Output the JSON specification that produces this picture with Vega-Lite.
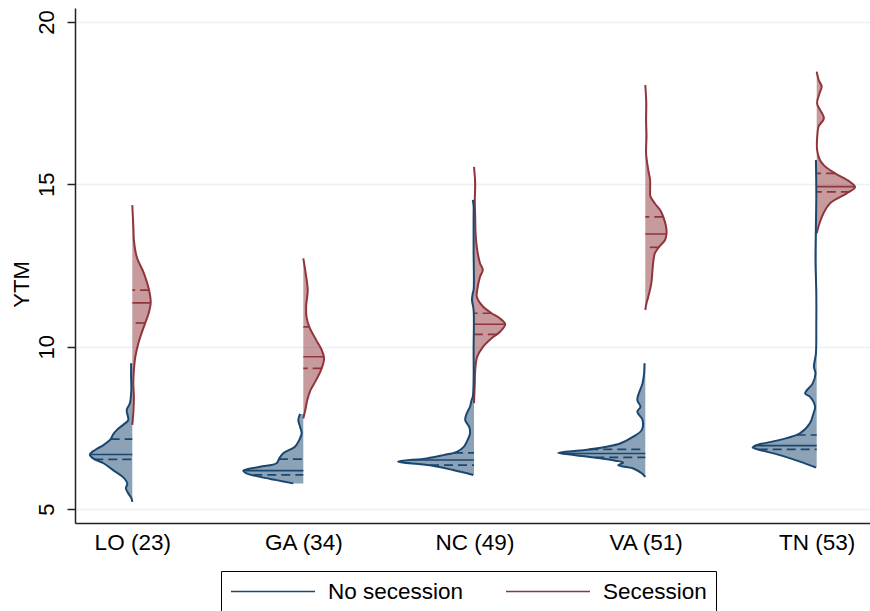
{
"$schema":"https://vega.github.io/schema/vega-lite/v6.json",
"width":795,"height":515,
"autosize":{"type":"none"},
"padding":{"left":75,"top":8,"right":0,"bottom":88},
"background":"white",
"config":{"view":{"stroke":null},"font":"Liberation Sans","axis":{"labelColor":"black","titleColor":"black","labelFont":"Liberation Sans","titleFont":"Liberation Sans"},"legend":{"labelFont":"Liberation Sans"}},
"data":{"values":[
{"state":"LO (23)","group":"Secession","stat":"curve","ytm":14.36,"density":0},
{"state":"LO (23)","group":"Secession","stat":"curve","ytm":13.59,"density":0.03},
{"state":"LO (23)","group":"Secession","stat":"curve","ytm":13.28,"density":0.04},
{"state":"LO (23)","group":"Secession","stat":"curve","ytm":12.77,"density":0.11},
{"state":"LO (23)","group":"Secession","stat":"curve","ytm":12.26,"density":0.29},
{"state":"LO (23)","group":"Secession","stat":"curve","ytm":11.74,"density":0.42},
{"state":"LO (23)","group":"Secession","stat":"curve","ytm":11.35,"density":0.46},
{"state":"LO (23)","group":"Secession","stat":"curve","ytm":11.03,"density":0.41},
{"state":"LO (23)","group":"Secession","stat":"curve","ytm":10.72,"density":0.32},
{"state":"LO (23)","group":"Secession","stat":"curve","ytm":10.41,"density":0.23},
{"state":"LO (23)","group":"Secession","stat":"curve","ytm":10.10,"density":0.15},
{"state":"LO (23)","group":"Secession","stat":"curve","ytm":9.69,"density":0.075},
{"state":"LO (23)","group":"Secession","stat":"curve","ytm":9.28,"density":0.04},
{"state":"LO (23)","group":"Secession","stat":"curve","ytm":8.88,"density":0.025},
{"state":"LO (23)","group":"Secession","stat":"curve","ytm":8.46,"density":0.04},
{"state":"LO (23)","group":"Secession","stat":"curve","ytm":8.05,"density":0.03},
{"state":"LO (23)","group":"Secession","stat":"curve","ytm":7.59,"density":0},
{"state":"LO (23)","group":"Secession","stat":"q3","ytm":11.74,"density":0.42},
{"state":"LO (23)","group":"Secession","stat":"median","ytm":11.35,"density":0.46},
{"state":"LO (23)","group":"Secession","stat":"q1","ytm":10.73,"density":0.31},
{"state":"LO (23)","group":"No secession","stat":"curve","ytm":9.49,"density":0.03},
{"state":"LO (23)","group":"No secession","stat":"curve","ytm":9.07,"density":0.03},
{"state":"LO (23)","group":"No secession","stat":"curve","ytm":8.66,"density":0.025},
{"state":"LO (23)","group":"No secession","stat":"curve","ytm":8.26,"density":0.06},
{"state":"LO (23)","group":"No secession","stat":"curve","ytm":8.05,"density":0.14},
{"state":"LO (23)","group":"No secession","stat":"curve","ytm":7.74,"density":0.10},
{"state":"LO (23)","group":"No secession","stat":"curve","ytm":7.64,"density":0.18},
{"state":"LO (23)","group":"No secession","stat":"curve","ytm":7.43,"density":0.39},
{"state":"LO (23)","group":"No secession","stat":"curve","ytm":7.28,"density":0.49},
{"state":"LO (23)","group":"No secession","stat":"curve","ytm":7.15,"density":0.54},
{"state":"LO (23)","group":"No secession","stat":"curve","ytm":6.97,"density":0.72},
{"state":"LO (23)","group":"No secession","stat":"curve","ytm":6.82,"density":0.93},
{"state":"LO (23)","group":"No secession","stat":"curve","ytm":6.68,"density":1.06},
{"state":"LO (23)","group":"No secession","stat":"curve","ytm":6.56,"density":0.98},
{"state":"LO (23)","group":"No secession","stat":"curve","ytm":6.41,"density":0.72},
{"state":"LO (23)","group":"No secession","stat":"curve","ytm":6.20,"density":0.48},
{"state":"LO (23)","group":"No secession","stat":"curve","ytm":5.99,"density":0.24},
{"state":"LO (23)","group":"No secession","stat":"curve","ytm":5.79,"density":0.125},
{"state":"LO (23)","group":"No secession","stat":"curve","ytm":5.64,"density":0.16},
{"state":"LO (23)","group":"No secession","stat":"curve","ytm":5.48,"density":0.10},
{"state":"LO (23)","group":"No secession","stat":"curve","ytm":5.33,"density":0.02},
{"state":"LO (23)","group":"No secession","stat":"curve","ytm":5.22,"density":0},
{"state":"LO (23)","group":"No secession","stat":"q3","ytm":7.15,"density":0.54},
{"state":"LO (23)","group":"No secession","stat":"median","ytm":6.68,"density":1.06},
{"state":"LO (23)","group":"No secession","stat":"q1","ytm":6.53,"density":0.95},
{"state":"GA (34)","group":"Secession","stat":"curve","ytm":12.72,"density":0},
{"state":"GA (34)","group":"Secession","stat":"curve","ytm":12.26,"density":0.06},
{"state":"GA (34)","group":"Secession","stat":"curve","ytm":11.74,"density":0.11},
{"state":"GA (34)","group":"Secession","stat":"curve","ytm":11.23,"density":0.07},
{"state":"GA (34)","group":"Secession","stat":"curve","ytm":10.92,"density":0.08},
{"state":"GA (34)","group":"Secession","stat":"curve","ytm":10.61,"density":0.15},
{"state":"GA (34)","group":"Secession","stat":"curve","ytm":10.21,"density":0.32},
{"state":"GA (34)","group":"Secession","stat":"curve","ytm":9.90,"density":0.46},
{"state":"GA (34)","group":"Secession","stat":"curve","ytm":9.64,"density":0.52},
{"state":"GA (34)","group":"Secession","stat":"curve","ytm":9.33,"density":0.46},
{"state":"GA (34)","group":"Secession","stat":"curve","ytm":8.97,"density":0.32},
{"state":"GA (34)","group":"Secession","stat":"curve","ytm":8.66,"density":0.18},
{"state":"GA (34)","group":"Secession","stat":"curve","ytm":8.36,"density":0.10},
{"state":"GA (34)","group":"Secession","stat":"curve","ytm":8.05,"density":0.05},
{"state":"GA (34)","group":"Secession","stat":"curve","ytm":7.79,"density":0},
{"state":"GA (34)","group":"Secession","stat":"q3","ytm":10.61,"density":0.15},
{"state":"GA (34)","group":"Secession","stat":"median","ytm":9.69,"density":0.51},
{"state":"GA (34)","group":"Secession","stat":"q1","ytm":9.33,"density":0.46},
{"state":"GA (34)","group":"No secession","stat":"curve","ytm":7.93,"density":0.08},
{"state":"GA (34)","group":"No secession","stat":"curve","ytm":7.74,"density":0.125},
{"state":"GA (34)","group":"No secession","stat":"curve","ytm":7.53,"density":0.08},
{"state":"GA (34)","group":"No secession","stat":"curve","ytm":7.33,"density":0.04},
{"state":"GA (34)","group":"No secession","stat":"curve","ytm":7.13,"density":0.10},
{"state":"GA (34)","group":"No secession","stat":"curve","ytm":6.92,"density":0.21},
{"state":"GA (34)","group":"No secession","stat":"curve","ytm":6.72,"density":0.50},
{"state":"GA (34)","group":"No secession","stat":"curve","ytm":6.56,"density":0.60},
{"state":"GA (34)","group":"No secession","stat":"curve","ytm":6.41,"density":0.67},
{"state":"GA (34)","group":"No secession","stat":"curve","ytm":6.30,"density":1.08},
{"state":"GA (34)","group":"No secession","stat":"curve","ytm":6.18,"density":1.50},
{"state":"GA (34)","group":"No secession","stat":"curve","ytm":6.10,"density":1.42},
{"state":"GA (34)","group":"No secession","stat":"curve","ytm":5.99,"density":1.08},
{"state":"GA (34)","group":"No secession","stat":"curve","ytm":5.89,"density":0.67},
{"state":"GA (34)","group":"No secession","stat":"curve","ytm":5.79,"density":0.25},
{"state":"GA (34)","group":"No secession","stat":"q3","ytm":6.54,"density":0.61},
{"state":"GA (34)","group":"No secession","stat":"median","ytm":6.18,"density":1.50},
{"state":"GA (34)","group":"No secession","stat":"q1","ytm":6.05,"density":1.25},
{"state":"NC (49)","group":"Secession","stat":"curve","ytm":15.54,"density":0},
{"state":"NC (49)","group":"Secession","stat":"curve","ytm":15.03,"density":0.03},
{"state":"NC (49)","group":"Secession","stat":"curve","ytm":14.52,"density":0.02},
{"state":"NC (49)","group":"Secession","stat":"curve","ytm":14.0,"density":0.03},
{"state":"NC (49)","group":"Secession","stat":"curve","ytm":13.49,"density":0.04},
{"state":"NC (49)","group":"Secession","stat":"curve","ytm":12.98,"density":0.08},
{"state":"NC (49)","group":"Secession","stat":"curve","ytm":12.57,"density":0.15},
{"state":"NC (49)","group":"Secession","stat":"curve","ytm":12.36,"density":0.22},
{"state":"NC (49)","group":"Secession","stat":"curve","ytm":12.15,"density":0.15},
{"state":"NC (49)","group":"Secession","stat":"curve","ytm":11.74,"density":0.08},
{"state":"NC (49)","group":"Secession","stat":"curve","ytm":11.54,"density":0.07},
{"state":"NC (49)","group":"Secession","stat":"curve","ytm":11.23,"density":0.23},
{"state":"NC (49)","group":"Secession","stat":"curve","ytm":11.03,"density":0.44},
{"state":"NC (49)","group":"Secession","stat":"curve","ytm":10.87,"density":0.65},
{"state":"NC (49)","group":"Secession","stat":"curve","ytm":10.69,"density":0.78},
{"state":"NC (49)","group":"Secession","stat":"curve","ytm":10.46,"density":0.65},
{"state":"NC (49)","group":"Secession","stat":"curve","ytm":10.26,"density":0.44},
{"state":"NC (49)","group":"Secession","stat":"curve","ytm":10.0,"density":0.23},
{"state":"NC (49)","group":"Secession","stat":"curve","ytm":9.69,"density":0.08},
{"state":"NC (49)","group":"Secession","stat":"curve","ytm":9.28,"density":0.03},
{"state":"NC (49)","group":"Secession","stat":"curve","ytm":8.87,"density":0.02},
{"state":"NC (49)","group":"Secession","stat":"curve","ytm":8.26,"density":0},
{"state":"NC (49)","group":"Secession","stat":"q3","ytm":11.03,"density":0.44},
{"state":"NC (49)","group":"Secession","stat":"median","ytm":10.69,"density":0.78},
{"state":"NC (49)","group":"Secession","stat":"q1","ytm":10.38,"density":0.57},
{"state":"NC (49)","group":"No secession","stat":"curve","ytm":14.52,"density":0.03},
{"state":"NC (49)","group":"No secession","stat":"curve","ytm":14.33,"density":0.01},
{"state":"NC (49)","group":"No secession","stat":"curve","ytm":14.0,"density":0.01},
{"state":"NC (49)","group":"No secession","stat":"curve","ytm":12.98,"density":0.01},
{"state":"NC (49)","group":"No secession","stat":"curve","ytm":11.74,"density":0.01},
{"state":"NC (49)","group":"No secession","stat":"curve","ytm":11.65,"density":0.03},
{"state":"NC (49)","group":"No secession","stat":"curve","ytm":11.44,"density":0.05},
{"state":"NC (49)","group":"No secession","stat":"curve","ytm":11.13,"density":0.01},
{"state":"NC (49)","group":"No secession","stat":"curve","ytm":9.90,"density":0.01},
{"state":"NC (49)","group":"No secession","stat":"curve","ytm":8.97,"density":0.01},
{"state":"NC (49)","group":"No secession","stat":"curve","ytm":8.46,"density":0.03},
{"state":"NC (49)","group":"No secession","stat":"curve","ytm":8.36,"density":0.06},
{"state":"NC (49)","group":"No secession","stat":"curve","ytm":8.15,"density":0.10},
{"state":"NC (49)","group":"No secession","stat":"curve","ytm":7.95,"density":0.18},
{"state":"NC (49)","group":"No secession","stat":"curve","ytm":7.74,"density":0.22},
{"state":"NC (49)","group":"No secession","stat":"curve","ytm":7.53,"density":0.12},
{"state":"NC (49)","group":"No secession","stat":"curve","ytm":7.33,"density":0.10},
{"state":"NC (49)","group":"No secession","stat":"curve","ytm":7.18,"density":0.14},
{"state":"NC (49)","group":"No secession","stat":"curve","ytm":6.92,"density":0.25},
{"state":"NC (49)","group":"No secession","stat":"curve","ytm":6.76,"density":0.43},
{"state":"NC (49)","group":"No secession","stat":"curve","ytm":6.66,"density":0.77},
{"state":"NC (49)","group":"No secession","stat":"curve","ytm":6.56,"density":1.18},
{"state":"NC (49)","group":"No secession","stat":"curve","ytm":6.46,"density":1.9},
{"state":"NC (49)","group":"No secession","stat":"curve","ytm":6.35,"density":1.1},
{"state":"NC (49)","group":"No secession","stat":"curve","ytm":6.20,"density":0.52},
{"state":"NC (49)","group":"No secession","stat":"curve","ytm":6.05,"density":0.02},
{"state":"NC (49)","group":"No secession","stat":"q3","ytm":6.73,"density":0.5},
{"state":"NC (49)","group":"No secession","stat":"median","ytm":6.51,"density":1.55},
{"state":"NC (49)","group":"No secession","stat":"q1","ytm":6.35,"density":1.1},
{"state":"VA (51)","group":"Secession","stat":"curve","ytm":18.06,"density":0},
{"state":"VA (51)","group":"Secession","stat":"curve","ytm":17.49,"density":0.025},
{"state":"VA (51)","group":"Secession","stat":"curve","ytm":16.98,"density":0.02},
{"state":"VA (51)","group":"Secession","stat":"curve","ytm":16.47,"density":0.03},
{"state":"VA (51)","group":"Secession","stat":"curve","ytm":15.95,"density":0.02},
{"state":"VA (51)","group":"Secession","stat":"curve","ytm":15.44,"density":0.075},
{"state":"VA (51)","group":"Secession","stat":"curve","ytm":15.13,"density":0.12},
{"state":"VA (51)","group":"Secession","stat":"curve","ytm":14.82,"density":0.12},
{"state":"VA (51)","group":"Secession","stat":"curve","ytm":14.62,"density":0.13},
{"state":"VA (51)","group":"Secession","stat":"curve","ytm":14.41,"density":0.24},
{"state":"VA (51)","group":"Secession","stat":"curve","ytm":14.21,"density":0.37},
{"state":"VA (51)","group":"Secession","stat":"curve","ytm":14.0,"density":0.45},
{"state":"VA (51)","group":"Secession","stat":"curve","ytm":13.69,"density":0.52},
{"state":"VA (51)","group":"Secession","stat":"curve","ytm":13.47,"density":0.53},
{"state":"VA (51)","group":"Secession","stat":"curve","ytm":13.28,"density":0.49},
{"state":"VA (51)","group":"Secession","stat":"curve","ytm":13.08,"density":0.35},
{"state":"VA (51)","group":"Secession","stat":"curve","ytm":12.88,"density":0.24},
{"state":"VA (51)","group":"Secession","stat":"curve","ytm":12.62,"density":0.20},
{"state":"VA (51)","group":"Secession","stat":"curve","ytm":12.36,"density":0.18},
{"state":"VA (51)","group":"Secession","stat":"curve","ytm":11.95,"density":0.15},
{"state":"VA (51)","group":"Secession","stat":"curve","ytm":11.54,"density":0.075},
{"state":"VA (51)","group":"Secession","stat":"curve","ytm":11.34,"density":0.03},
{"state":"VA (51)","group":"Secession","stat":"curve","ytm":11.13,"density":0},
{"state":"VA (51)","group":"Secession","stat":"q3","ytm":14.0,"density":0.45},
{"state":"VA (51)","group":"Secession","stat":"median","ytm":13.47,"density":0.53},
{"state":"VA (51)","group":"Secession","stat":"q1","ytm":13.06,"density":0.34},
{"state":"VA (51)","group":"No secession","stat":"curve","ytm":9.49,"density":0.02},
{"state":"VA (51)","group":"No secession","stat":"curve","ytm":9.18,"density":0.03},
{"state":"VA (51)","group":"No secession","stat":"curve","ytm":8.87,"density":0.07},
{"state":"VA (51)","group":"No secession","stat":"curve","ytm":8.36,"density":0.20},
{"state":"VA (51)","group":"No secession","stat":"curve","ytm":8.15,"density":0.12},
{"state":"VA (51)","group":"No secession","stat":"curve","ytm":8.0,"density":0.20},
{"state":"VA (51)","group":"No secession","stat":"curve","ytm":7.74,"density":0.07},
{"state":"VA (51)","group":"No secession","stat":"curve","ytm":7.43,"density":0.09},
{"state":"VA (51)","group":"No secession","stat":"curve","ytm":7.23,"density":0.30},
{"state":"VA (51)","group":"No secession","stat":"curve","ytm":7.02,"density":0.63},
{"state":"VA (51)","group":"No secession","stat":"curve","ytm":6.92,"density":0.97},
{"state":"VA (51)","group":"No secession","stat":"curve","ytm":6.82,"density":1.5},
{"state":"VA (51)","group":"No secession","stat":"curve","ytm":6.73,"density":2.18},
{"state":"VA (51)","group":"No secession","stat":"curve","ytm":6.66,"density":1.75},
{"state":"VA (51)","group":"No secession","stat":"curve","ytm":6.56,"density":1.12},
{"state":"VA (51)","group":"No secession","stat":"curve","ytm":6.49,"density":0.75},
{"state":"VA (51)","group":"No secession","stat":"curve","ytm":6.43,"density":0.55},
{"state":"VA (51)","group":"No secession","stat":"curve","ytm":6.35,"density":0.68},
{"state":"VA (51)","group":"No secession","stat":"curve","ytm":6.25,"density":0.30},
{"state":"VA (51)","group":"No secession","stat":"curve","ytm":6.10,"density":0.09},
{"state":"VA (51)","group":"No secession","stat":"curve","ytm":5.99,"density":0},
{"state":"VA (51)","group":"No secession","stat":"q3","ytm":6.84,"density":1.4},
{"state":"VA (51)","group":"No secession","stat":"median","ytm":6.71,"density":2.1},
{"state":"VA (51)","group":"No secession","stat":"q1","ytm":6.59,"density":1.25},
{"state":"TN (53)","group":"Secession","stat":"curve","ytm":18.47,"density":0},
{"state":"TN (53)","group":"Secession","stat":"curve","ytm":18.21,"density":0.05},
{"state":"TN (53)","group":"Secession","stat":"curve","ytm":18.01,"density":0.125},
{"state":"TN (53)","group":"Secession","stat":"curve","ytm":17.80,"density":0.07},
{"state":"TN (53)","group":"Secession","stat":"curve","ytm":17.49,"density":0.01},
{"state":"TN (53)","group":"Secession","stat":"curve","ytm":17.03,"density":0.18},
{"state":"TN (53)","group":"Secession","stat":"curve","ytm":16.79,"density":0.05},
{"state":"TN (53)","group":"Secession","stat":"curve","ytm":16.57,"density":0.02},
{"state":"TN (53)","group":"Secession","stat":"curve","ytm":16.06,"density":0.01},
{"state":"TN (53)","group":"Secession","stat":"curve","ytm":15.75,"density":0.08},
{"state":"TN (53)","group":"Secession","stat":"curve","ytm":15.56,"density":0.2},
{"state":"TN (53)","group":"Secession","stat":"curve","ytm":15.34,"density":0.46},
{"state":"TN (53)","group":"Secession","stat":"curve","ytm":15.08,"density":0.83},
{"state":"TN (53)","group":"Secession","stat":"curve","ytm":14.91,"density":0.96},
{"state":"TN (53)","group":"Secession","stat":"curve","ytm":14.72,"density":0.75},
{"state":"TN (53)","group":"Secession","stat":"curve","ytm":14.41,"density":0.33},
{"state":"TN (53)","group":"Secession","stat":"curve","ytm":14.11,"density":0.17},
{"state":"TN (53)","group":"Secession","stat":"curve","ytm":13.80,"density":0.07},
{"state":"TN (53)","group":"Secession","stat":"curve","ytm":13.49,"density":0},
{"state":"TN (53)","group":"Secession","stat":"q3","ytm":15.34,"density":0.46},
{"state":"TN (53)","group":"Secession","stat":"median","ytm":14.93,"density":0.95},
{"state":"TN (53)","group":"Secession","stat":"q1","ytm":14.77,"density":0.83},
{"state":"TN (53)","group":"No secession","stat":"curve","ytm":15.75,"density":0.02},
{"state":"TN (53)","group":"No secession","stat":"curve","ytm":14.72,"density":0.01},
{"state":"TN (53)","group":"No secession","stat":"curve","ytm":13.69,"density":0.02},
{"state":"TN (53)","group":"No secession","stat":"curve","ytm":12.67,"density":0.03},
{"state":"TN (53)","group":"No secession","stat":"curve","ytm":11.64,"density":0.01},
{"state":"TN (53)","group":"No secession","stat":"curve","ytm":10.61,"density":0.01},
{"state":"TN (53)","group":"No secession","stat":"curve","ytm":9.79,"density":0.02},
{"state":"TN (53)","group":"No secession","stat":"curve","ytm":9.38,"density":0.07},
{"state":"TN (53)","group":"No secession","stat":"curve","ytm":9.18,"density":0.03},
{"state":"TN (53)","group":"No secession","stat":"curve","ytm":8.87,"density":0.1},
{"state":"TN (53)","group":"No secession","stat":"curve","ytm":8.56,"density":0.29},
{"state":"TN (53)","group":"No secession","stat":"curve","ytm":8.46,"density":0.17},
{"state":"TN (53)","group":"No secession","stat":"curve","ytm":8.15,"density":0.04},
{"state":"TN (53)","group":"No secession","stat":"curve","ytm":7.95,"density":0.08},
{"state":"TN (53)","group":"No secession","stat":"curve","ytm":7.64,"density":0.17},
{"state":"TN (53)","group":"No secession","stat":"curve","ytm":7.33,"density":0.42},
{"state":"TN (53)","group":"No secession","stat":"curve","ytm":7.13,"density":0.92},
{"state":"TN (53)","group":"No secession","stat":"curve","ytm":6.97,"density":1.5},
{"state":"TN (53)","group":"No secession","stat":"curve","ytm":6.90,"density":1.6},
{"state":"TN (53)","group":"No secession","stat":"curve","ytm":6.82,"density":1.42},
{"state":"TN (53)","group":"No secession","stat":"curve","ytm":6.66,"density":0.92},
{"state":"TN (53)","group":"No secession","stat":"curve","ytm":6.46,"density":0.42},
{"state":"TN (53)","group":"No secession","stat":"curve","ytm":6.28,"density":0.02},
{"state":"TN (53)","group":"No secession","stat":"q3","ytm":7.28,"density":0.5},
{"state":"TN (53)","group":"No secession","stat":"median","ytm":6.95,"density":1.55},
{"state":"TN (53)","group":"No secession","stat":"q1","ytm":6.84,"density":1.45}
]},
"encoding":{
 "y":{"field":"ytm","type":"quantitative","scale":{"domain":[4.57,20.43],"nice":false,"zero":false},
  "axis":{"title":"YTM","values":[5,10,15,20],"labelAngle":270,"labelAlign":"center","labelBaseline":"bottom","labelFontSize":22,"labelPadding":9,"tickSize":8,"tickColor":"#222","tickWidth":1.5,"domainColor":"#222","domainWidth":1.5,"grid":true,"gridColor":"#eaf0f3","gridWidth":1.5,"titleFontSize":22,"titleFontWeight":"normal","titleAngle":270,"titleBaseline":"bottom","titlePadding":2,"titleY":276}},
 "color":{"field":"group","type":"nominal","scale":{"domain":["No secession","Secession"],"range":["#1a476f","#90353b"]},
  "legend":{"title":null,"orient":"none","legendX":146,"legendY":563,"direction":"horizontal","symbolType":"M-1,0H7","symbolSize":441,"symbolStrokeWidth":1.5,"labelFontSize":22.5,"labelColor":"black","labelOffset":75,"columnPadding":38,"padding":9,"strokeColor":"black",
   "encode":{"symbols":{"update":{"stroke":{"scale":"color","field":"value"},"fill":{"value":"transparent"},"strokeWidth":{"value":1.6},"opacity":{"value":1},"fillOpacity":{"value":0}}}}}}
},
"layer":[
 {"transform":[{"filter":"false"}],"mark":{"type":"point"},
  "encoding":{"x":{"field":"state","type":"nominal","scale":{"type":"point","domain":["LO (23)","GA (34)","NC (49)","VA (51)","TN (53)"],"padding":0.323,"align":0.518},
   "axis":{"title":null,"labelAngle":0,"labelFontSize":22.5,"ticks":false,"labelPadding":8,"domainColor":"#222","domainWidth":1.5,"grid":false}}}},
 {"transform":[{"filter":"datum.state==='LO (23)' && datum.group==='Secession'"}],
  "encoding":{"x":{"field":"density","type":"quantitative","stack":null,"axis":null,"scale":{"domain":[-1.4325,18.4425],"nice":false,"zero":false}}},
  "layer":[
   {"transform":[{"filter":"datum.stat==='curve'"}],"mark":{"type":"area","orient":"horizontal","interpolate":"catmull-rom","fillOpacity":0.5},"encoding":{"x2":{"datum":0}}},
   {"transform":[{"filter":"datum.stat==='curve'"}],"mark":{"type":"line","interpolate":"catmull-rom","strokeWidth":2},"encoding":{"order":{"field":"ytm","type":"quantitative"}}},
   {"transform":[{"filter":"datum.stat!=='curve'"}],"mark":{"type":"rule","strokeWidth":1.7},"encoding":{"x2":{"datum":0},"strokeDash":{"field":"stat","type":"nominal","scale":{"domain":["median","q1","q3"],"range":[[1,0],[9,5],[9,5]]},"legend":null}}}
  ]},
 {"transform":[{"filter":"datum.state==='GA (34)' && datum.group==='Secession'"}],
  "encoding":{"x":{"field":"density","type":"quantitative","stack":null,"axis":null,"scale":{"domain":[-5.7075,14.1675],"nice":false,"zero":false}}},
  "layer":[
   {"transform":[{"filter":"datum.stat==='curve'"}],"mark":{"type":"area","orient":"horizontal","interpolate":"catmull-rom","fillOpacity":0.5},"encoding":{"x2":{"datum":0}}},
   {"transform":[{"filter":"datum.stat==='curve'"}],"mark":{"type":"line","interpolate":"catmull-rom","strokeWidth":2},"encoding":{"order":{"field":"ytm","type":"quantitative"}}},
   {"transform":[{"filter":"datum.stat!=='curve'"}],"mark":{"type":"rule","strokeWidth":1.7},"encoding":{"x2":{"datum":0},"strokeDash":{"field":"stat","type":"nominal","scale":{"domain":["median","q1","q3"],"range":[[1,0],[9,5],[9,5]]},"legend":null}}}
  ]},
 {"transform":[{"filter":"datum.state==='NC (49)' && datum.group==='Secession'"}],
  "encoding":{"x":{"field":"density","type":"quantitative","stack":null,"axis":null,"scale":{"domain":[-9.975,9.9],"nice":false,"zero":false}}},
  "layer":[
   {"transform":[{"filter":"datum.stat==='curve'"}],"mark":{"type":"area","orient":"horizontal","interpolate":"catmull-rom","fillOpacity":0.5},"encoding":{"x2":{"datum":0}}},
   {"transform":[{"filter":"datum.stat==='curve'"}],"mark":{"type":"line","interpolate":"catmull-rom","strokeWidth":2},"encoding":{"order":{"field":"ytm","type":"quantitative"}}},
   {"transform":[{"filter":"datum.stat!=='curve'"}],"mark":{"type":"rule","strokeWidth":1.7},"encoding":{"x2":{"datum":0},"strokeDash":{"field":"stat","type":"nominal","scale":{"domain":["median","q1","q3"],"range":[[1,0],[9,5],[9,5]]},"legend":null}}}
  ]},
 {"transform":[{"filter":"datum.state==='VA (51)' && datum.group==='Secession'"}],
  "encoding":{"x":{"field":"density","type":"quantitative","stack":null,"axis":null,"scale":{"domain":[-14.2575,5.6175],"nice":false,"zero":false}}},
  "layer":[
   {"transform":[{"filter":"datum.stat==='curve'"}],"mark":{"type":"area","orient":"horizontal","interpolate":"catmull-rom","fillOpacity":0.5},"encoding":{"x2":{"datum":0}}},
   {"transform":[{"filter":"datum.stat==='curve'"}],"mark":{"type":"line","interpolate":"catmull-rom","strokeWidth":2},"encoding":{"order":{"field":"ytm","type":"quantitative"}}},
   {"transform":[{"filter":"datum.stat!=='curve'"}],"mark":{"type":"rule","strokeWidth":1.7},"encoding":{"x2":{"datum":0},"strokeDash":{"field":"stat","type":"nominal","scale":{"domain":["median","q1","q3"],"range":[[1,0],[9,5],[9,5]]},"legend":null}}}
  ]},
 {"transform":[{"filter":"datum.state==='TN (53)' && datum.group==='Secession'"}],
  "encoding":{"x":{"field":"density","type":"quantitative","stack":null,"axis":null,"scale":{"domain":[-18.5425,1.3325],"nice":false,"zero":false}}},
  "layer":[
   {"transform":[{"filter":"datum.stat==='curve'"}],"mark":{"type":"area","orient":"horizontal","interpolate":"catmull-rom","fillOpacity":0.5},"encoding":{"x2":{"datum":0}}},
   {"transform":[{"filter":"datum.stat==='curve'"}],"mark":{"type":"line","interpolate":"catmull-rom","strokeWidth":2},"encoding":{"order":{"field":"ytm","type":"quantitative"}}},
   {"transform":[{"filter":"datum.stat!=='curve'"}],"mark":{"type":"rule","strokeWidth":1.7},"encoding":{"x2":{"datum":0},"strokeDash":{"field":"stat","type":"nominal","scale":{"domain":["median","q1","q3"],"range":[[1,0],[9,5],[9,5]]},"legend":null}}}
  ]},
 {"transform":[{"filter":"datum.state==='LO (23)' && datum.group==='No secession'"}],
  "encoding":{"x":{"field":"density","type":"quantitative","stack":null,"axis":null,"scale":{"domain":[-18.4425,1.4325],"reverse":true,"nice":false,"zero":false}}},
  "layer":[
   {"transform":[{"filter":"datum.stat==='curve'"}],"mark":{"type":"area","orient":"horizontal","interpolate":"catmull-rom","fillOpacity":0.5},"encoding":{"x2":{"datum":0}}},
   {"transform":[{"filter":"datum.stat==='curve'"}],"mark":{"type":"line","interpolate":"catmull-rom","strokeWidth":2},"encoding":{"order":{"field":"ytm","type":"quantitative"}}},
   {"transform":[{"filter":"datum.stat!=='curve'"}],"mark":{"type":"rule","strokeWidth":1.7},"encoding":{"x2":{"datum":0},"strokeDash":{"field":"stat","type":"nominal","scale":{"domain":["median","q1","q3"],"range":[[1,0],[9,5],[9,5]]},"legend":null}}}
  ]},
 {"transform":[{"filter":"datum.state==='GA (34)' && datum.group==='No secession'"}],
  "encoding":{"x":{"field":"density","type":"quantitative","stack":null,"axis":null,"scale":{"domain":[-14.1675,5.7075],"reverse":true,"nice":false,"zero":false}}},
  "layer":[
   {"transform":[{"filter":"datum.stat==='curve'"}],"mark":{"type":"area","orient":"horizontal","interpolate":"catmull-rom","fillOpacity":0.5},"encoding":{"x2":{"datum":0}}},
   {"transform":[{"filter":"datum.stat==='curve'"}],"mark":{"type":"line","interpolate":"catmull-rom","strokeWidth":2},"encoding":{"order":{"field":"ytm","type":"quantitative"}}},
   {"transform":[{"filter":"datum.stat!=='curve'"}],"mark":{"type":"rule","strokeWidth":1.7},"encoding":{"x2":{"datum":0},"strokeDash":{"field":"stat","type":"nominal","scale":{"domain":["median","q1","q3"],"range":[[1,0],[9,5],[9,5]]},"legend":null}}}
  ]},
 {"transform":[{"filter":"datum.state==='NC (49)' && datum.group==='No secession'"}],
  "encoding":{"x":{"field":"density","type":"quantitative","stack":null,"axis":null,"scale":{"domain":[-9.9,9.975],"reverse":true,"nice":false,"zero":false}}},
  "layer":[
   {"transform":[{"filter":"datum.stat==='curve'"}],"mark":{"type":"area","orient":"horizontal","interpolate":"catmull-rom","fillOpacity":0.5},"encoding":{"x2":{"datum":0}}},
   {"transform":[{"filter":"datum.stat==='curve'"}],"mark":{"type":"line","interpolate":"catmull-rom","strokeWidth":2},"encoding":{"order":{"field":"ytm","type":"quantitative"}}},
   {"transform":[{"filter":"datum.stat!=='curve'"}],"mark":{"type":"rule","strokeWidth":1.7},"encoding":{"x2":{"datum":0},"strokeDash":{"field":"stat","type":"nominal","scale":{"domain":["median","q1","q3"],"range":[[1,0],[9,5],[9,5]]},"legend":null}}}
  ]},
 {"transform":[{"filter":"datum.state==='VA (51)' && datum.group==='No secession'"}],
  "encoding":{"x":{"field":"density","type":"quantitative","stack":null,"axis":null,"scale":{"domain":[-5.6175,14.2575],"reverse":true,"nice":false,"zero":false}}},
  "layer":[
   {"transform":[{"filter":"datum.stat==='curve'"}],"mark":{"type":"area","orient":"horizontal","interpolate":"catmull-rom","fillOpacity":0.5},"encoding":{"x2":{"datum":0}}},
   {"transform":[{"filter":"datum.stat==='curve'"}],"mark":{"type":"line","interpolate":"catmull-rom","strokeWidth":2},"encoding":{"order":{"field":"ytm","type":"quantitative"}}},
   {"transform":[{"filter":"datum.stat!=='curve'"}],"mark":{"type":"rule","strokeWidth":1.7},"encoding":{"x2":{"datum":0},"strokeDash":{"field":"stat","type":"nominal","scale":{"domain":["median","q1","q3"],"range":[[1,0],[9,5],[9,5]]},"legend":null}}}
  ]},
 {"transform":[{"filter":"datum.state==='TN (53)' && datum.group==='No secession'"}],
  "encoding":{"x":{"field":"density","type":"quantitative","stack":null,"axis":null,"scale":{"domain":[-1.3325,18.5425],"reverse":true,"nice":false,"zero":false}}},
  "layer":[
   {"transform":[{"filter":"datum.stat==='curve'"}],"mark":{"type":"area","orient":"horizontal","interpolate":"catmull-rom","fillOpacity":0.5},"encoding":{"x2":{"datum":0}}},
   {"transform":[{"filter":"datum.stat==='curve'"}],"mark":{"type":"line","interpolate":"catmull-rom","strokeWidth":2},"encoding":{"order":{"field":"ytm","type":"quantitative"}}},
   {"transform":[{"filter":"datum.stat!=='curve'"}],"mark":{"type":"rule","strokeWidth":1.7},"encoding":{"x2":{"datum":0},"strokeDash":{"field":"stat","type":"nominal","scale":{"domain":["median","q1","q3"],"range":[[1,0],[9,5],[9,5]]},"legend":null}}}
  ]}
],
"resolve":{"scale":{"x":"independent"}}
}
